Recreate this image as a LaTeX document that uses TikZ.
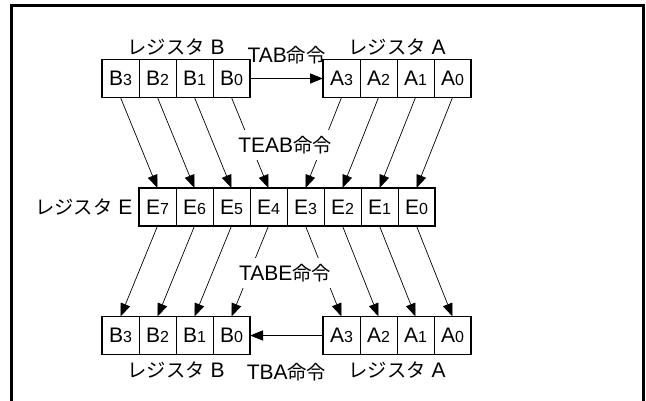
\documentclass[tikz,border=0pt]{standalone}
\usepackage{fontspec}
\setmainfont{Liberation Sans}
\newfontfamily\jpfont[Scale=0.92]{Noto Sans CJK JP}
\usetikzlibrary{positioning,arrows.meta}

\newcommand{\rbit}[2]{#1{\fontsize{16}{16}\selectfont #2}}
\newcommand{\jp}[1]{{\jpfont #1}}

\begin{document}
\begin{tikzpicture}[x=1pt, y=-1pt, font=\fontsize{21}{24}\selectfont,
    >={Triangle[length=13pt, width=10pt]},
    cell/.style = {draw, line width=0.8pt, minimum width=37pt, minimum height=38pt, inner sep=0pt, outer sep=0pt},
    reg/.style = {draw, line width=1.9pt},
    move/.style = {->, line width=0.7pt},
    cmd/.style = {fill=white, inner ysep=6pt}]
    \useasboundingbox (0,0) rectangle (646,401);
    \draw[line width=2.4pt] (11.5,401) |- (643.5,5.5) -- (643.5,401);

    % top row: B and A
    \node[cell] (tb3) at (120.5,78.5) {\rbit{B}{3}};
    \foreach \i/\j in {2/3,1/2,0/1}
        \node[cell, right=0pt of tb\j] (tb\i) {\rbit{B}{\i}};
    \node[cell, right=73pt of tb0] (ta3) {\rbit{A}{3}};
    \foreach \i/\j in {2/3,1/2,0/1}
        \node[cell, right=0pt of ta\j] (ta\i) {\rbit{A}{\i}};

    % middle row: E
    \node[cell] (e7) at (157.5,207) {\rbit{E}{7}};
    \foreach \i/\j in {6/7,5/6,4/5,3/4,2/3,1/2,0/1}
        \node[cell, right=0pt of e\j] (e\i) {\rbit{E}{\i}};

    % bottom row: B and A
    \node[cell] (bb3) at (120.5,335.5) {\rbit{B}{3}};
    \foreach \i/\j in {2/3,1/2,0/1}
        \node[cell, right=0pt of bb\j] (bb\i) {\rbit{B}{\i}};
    \node[cell, right=73pt of bb0] (ba3) {\rbit{A}{3}};
    \foreach \i/\j in {2/3,1/2,0/1}
        \node[cell, right=0pt of ba\j] (ba\i) {\rbit{A}{\i}};

    \draw[reg] (tb3.north west) rectangle (tb0.south east);
    \draw[reg] (ta3.north west) rectangle (ta0.south east);
    \draw[reg] (e7.north west) rectangle (e0.south east);
    \draw[reg] (bb3.north west) rectangle (bb0.south east);
    \draw[reg] (ba3.north west) rectangle (ba0.south east);

    \node[above=1pt of tb2.north east] (regbtop) {\jp{レジスタ} B};
    \node[above=1pt of ta2.north east] (regatop) {\jp{レジスタ} A};
    \node[left=3pt of e7] (rege) {\jp{レジスタ} E};
    \node[below=4pt of bb2.south east] (regbbot) {\jp{レジスタ} B};
    \node[below=4pt of ba2.south east] (regabot) {\jp{レジスタ} A};

    \draw[->, line width=1.2pt] (tb0) -- node[above=10pt] {TAB\jp{命令}} (ta3);
    \draw[->, line width=1.2pt] (ba3) -- node[below=24pt] {TBA\jp{命令}} (bb0);

    \foreach \s/\t in {tb3/e7,tb2/e6,tb1/e5,tb0/e4,ta3/e3,ta2/e2,ta1/e1,ta0/e0}
        \draw[move] (\s.south) -- (\t.north);
    \foreach \s/\t in {e7/bb3,e6/bb2,e5/bb1,e4/bb0,e3/ba3,e2/ba2,e1/ba1,e0/ba0}
        \draw[move] (\s.south) -- (\t.north);

    \node[cmd] (teab) at (285,145) {TEAB\jp{命令}};
    \node[cmd] (tabe) at (285,273) {TABE\jp{命令}};
\end{tikzpicture}
\end{document}
